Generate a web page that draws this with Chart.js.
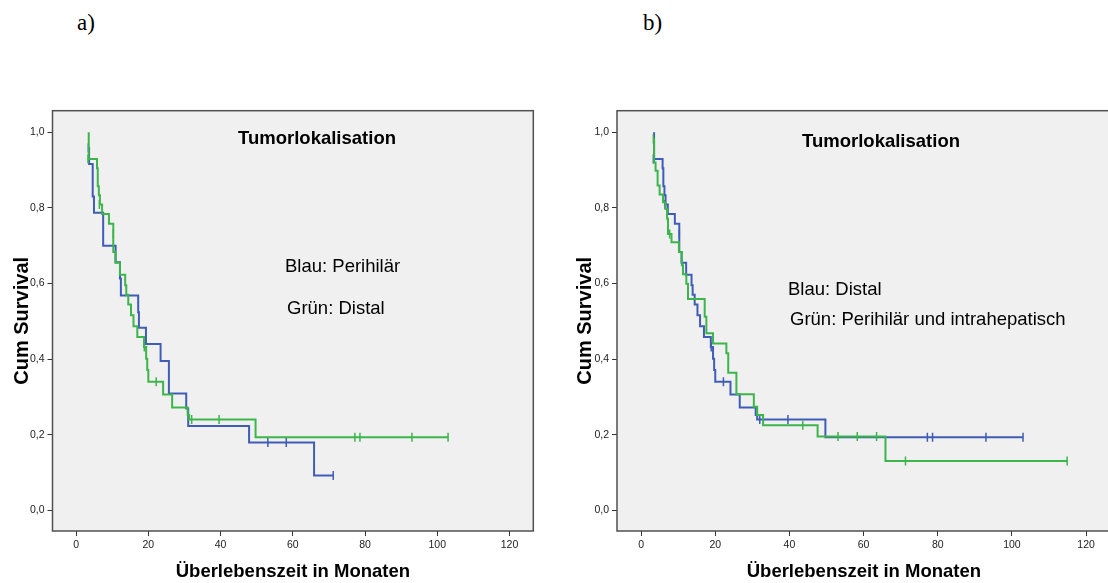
<!DOCTYPE html>
<html><head><meta charset="utf-8">
<script src="https://cdn.jsdelivr.net/npm/chart.js@4/dist/chart.umd.min.js"></script>
<style>
html,body{margin:0;padding:0;background:#fff;overflow:hidden;width:1108px;height:583px;position:relative}
.lbl{position:absolute;font-family:"Liberation Serif","Times New Roman",serif;font-size:23px;color:#000;line-height:1}
.wrap{position:absolute;top:100px;height:483px}
</style></head><body>
<div class="lbl" style="left:77px;top:11px">a)</div>
<div class="lbl" style="left:643px;top:11px">b)</div>
<div class="wrap" style="left:0;width:553px"><canvas id="cA" width="553" height="483"></canvas></div>
<div class="wrap" style="left:563px;width:560px"><canvas id="cB" width="560" height="483"></canvas></div>
<script>
// ---- data ----
const xTicks = [0, 20, 40, 60, 80, 100, 120];
const yTicks = [0, 0.2, 0.4, 0.6, 0.8, 1.0];

// Distal (green in a, blue in b)
const distalTimes = [3.5,3.5,5.8,6.0,6.3,6.6,7.2,9.1,10.3,10.9,12.15,13.6,13.9,14.45,15.2,15.9,16.95,18.8,19.4,19.7,20.0,24.1,26.6,30.9,31.3,49.7,103.0];
const distalSurv  = [1.0,0.929,0.905,0.857,0.833,0.809,0.784,0.758,0.683,0.655,0.623,0.595,0.570,0.544,0.516,0.487,0.458,0.432,0.401,0.371,0.340,0.306,0.272,0.252,0.240,0.193,0.193];
const distalCensTimes = [3.3,6.45,10.3,18.9,22.2,32.0,39.6,77.2,78.6,93.0,103.0];
const distalCensSurv  = [0.929,0.809,0.731,0.432,0.340,0.240,0.240,0.193,0.193,0.193,0.193];

// Perihilär (blue in a)
const perihilarTimes = [3.5,3.6,4.6,4.95,7.5,10.95,12.15,12.4,17.2,17.4,19.35,23.4,25.7,30.5,31.05,47.9,65.9,71.2];
const perihilarSurv  = [0.958,0.916,0.830,0.787,0.700,0.656,0.613,0.568,0.524,0.483,0.440,0.395,0.309,0.269,0.223,0.179,0.092,0.092];
const perihilarCensTimes = [3.4,53.1,58.2,71.2];
const perihilarCensSurv  = [0.958,0.179,0.179,0.092];

// Perihilär und intrahepatisch (green in b)
const periIntraTimes = [3.4,3.5,3.9,4.45,5.0,5.9,6.6,7.0,7.25,8.2,10.2,11.0,11.3,12.2,12.65,17.15,17.6,19.4,23.0,23.5,25.7,30.4,31.3,32.9,47.6,65.9,114.9];
const periIntraSurv  = [0.982,0.92,0.898,0.859,0.835,0.815,0.797,0.771,0.731,0.709,0.683,0.648,0.624,0.599,0.559,0.512,0.468,0.441,0.415,0.364,0.307,0.274,0.252,0.225,0.195,0.130,0.130];
const periIntraCensTimes = [3.3,7.7,43.6,53.1,58.3,63.5,71.3,114.9];
const periIntraCensSurv  = [0.982,0.731,0.225,0.195,0.195,0.195,0.130,0.130];

const BLUE = '#3f5cb6';
const GREEN = '#3cb54b';
const FONT = '"Liberation Sans", Arial, Helvetica, sans-serif';

const xy = (ts, ss) => ts.map((t, i) => ({x: t, y: ss[i]}));

function curve(label, ts, ss, color) {
  return {type: 'line', label, data: xy(ts, ss), borderColor: color, borderWidth: 2,
    stepped: 'before', pointRadius: 0, fill: false, tension: 0, borderJoinStyle: 'miter'};
}
function censors(label, ts, ss, color) {
  return {type: 'scatter', label, data: xy(ts, ss), borderColor: color, backgroundColor: color,
    pointStyle: 'line', rotation: 90, pointRadius: 4.5, borderWidth: 1.5, showLine: false};
}

function makeChart(id, datasets, geo, notes) {
  const frame = {
    id: 'frame',
    beforeDraw(c) {
      const a = c.chartArea, ctx = c.ctx;
      ctx.save(); ctx.fillStyle = '#f0f0f0';
      ctx.fillRect(a.left, a.top, a.right - a.left, a.bottom - a.top);
      ctx.restore();
    },
    afterDraw(c) {
      const a = c.chartArea, ctx = c.ctx;
      ctx.save();
      ctx.strokeStyle = '#505050'; ctx.lineWidth = 1.5;
      ctx.strokeRect(a.left, a.top, a.right - a.left, a.bottom - a.top);
      ctx.fillStyle = '#000'; ctx.textBaseline = 'middle';
      notes.forEach(n => {
        ctx.font = (n.bold ? 'bold ' : '') + n.size + 'px ' + FONT;
        ctx.textAlign = n.align;
        ctx.fillText(n.text, n.x, n.y);
      });
      ctx.restore();
    }
  };
  return new Chart(document.getElementById(id), {
    data: {datasets},
    options: {
      responsive: false, animation: false, events: [],
      layout: {autoPadding: false, padding: {left: 0, top: geo.top, right: geo.right, bottom: 0}},
      plugins: {legend: {display: false}, tooltip: {enabled: false}},
      scales: {
        x: {
          type: 'linear', min: geo.xmin, max: geo.xmax,
          afterBuildTicks: s => { s.ticks = xTicks.map(v => ({value: v})); },
          afterFit: s => { s.height = geo.xh; },
          ticks: {font: {family: FONT, size: 10.5}, color: '#222', padding: 3, maxRotation: 0},
          grid: {drawOnChartArea: false, drawTicks: true, tickLength: 5, tickColor: '#333'},
          border: {display: false},
          title: {display: true, text: 'Überlebenszeit in Monaten', color: '#000',
            font: {family: FONT, size: 18.5, weight: 'bold'}, padding: {top: 0, bottom: 0}}
        },
        y: {
          type: 'linear', min: -0.055, max: 1.057,
          afterBuildTicks: s => { s.ticks = yTicks.map(v => ({value: v})); },
          afterFit: s => { s.width = geo.yw; },
          ticks: {font: {family: FONT, size: 10.5}, color: '#222', padding: 3,
            callback: v => v.toFixed(1).replace('.', ',')},
          grid: {drawOnChartArea: false, drawTicks: true, tickLength: 5, tickColor: '#333'},
          border: {display: false},
          title: {display: true, text: 'Cum Survival', color: '#000',
            font: {family: FONT, size: 20, weight: 'bold'}, padding: {top: 10, bottom: 0}}
        }
      }
    },
    plugins: [frame]
  });
}

// Chart a) – green drawn on top (first dataset)
makeChart('cA', [
  curve('Distal', distalTimes, distalSurv, GREEN),
  censors('Distal zensiert', distalCensTimes, distalCensSurv, GREEN),
  curve('Perihilär', perihilarTimes, perihilarSurv, BLUE),
  censors('Perihilär zensiert', perihilarCensTimes, perihilarCensSurv, BLUE)
], {top: 10.7, right: 19.7, xh: 52, yw: 52.5, xmin: -6.53, xmax: 126.6}, [
  {text: 'Tumorlokalisation', x: 317, y: 39, bold: true, size: 18.5, align: 'center'},
  {text: 'Blau: Perihilär', x: 285, y: 167, bold: false, size: 18.5, align: 'left'},
  {text: 'Grün: Distal', x: 287, y: 209, bold: false, size: 18.5, align: 'left'}
]);

// Chart b)
makeChart('cB', [
  curve('Perihilär und intrahepatisch', periIntraTimes, periIntraSurv, GREEN),
  censors('Perihilär/intrahepatisch zensiert', periIntraCensTimes, periIntraCensSurv, GREEN),
  curve('Distal', distalTimes, distalSurv, BLUE),
  censors('Distal zensiert', distalCensTimes, distalCensSurv, BLUE)
], {top: 10.7, right: 12.2, xh: 52, yw: 54, xmin: -6.5, xmax: 126.67}, [
  {text: 'Tumorlokalisation', x: 318, y: 42, bold: true, size: 18.5, align: 'center'},
  {text: 'Blau: Distal', x: 225, y: 190, bold: false, size: 18.5, align: 'left'},
  {text: 'Grün: Perihilär und intrahepatisch', x: 227, y: 220, bold: false, size: 18.5, align: 'left'}
]);
</script>
</body></html>
